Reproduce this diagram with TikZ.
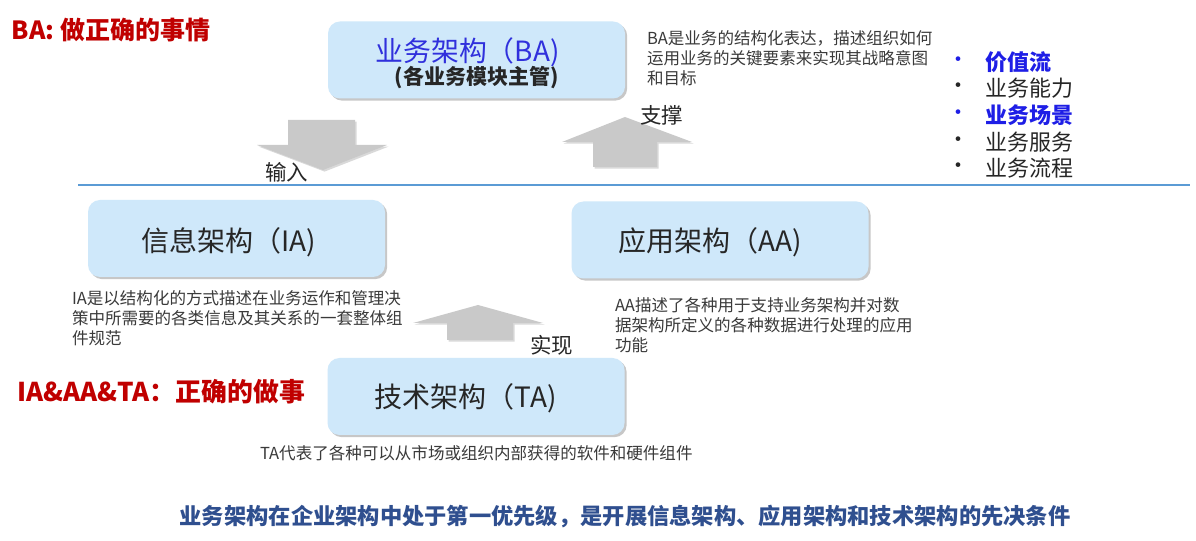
\documentclass[tikz,border=0pt]{standalone}
\usepackage{fontspec}
\setmainfont{Noto Sans CJK SC}
\usetikzlibrary{shadows}
\definecolor{boxfill}{HTML}{CFE8FA}
\definecolor{redtxt}{HTML}{C00000}
\definecolor{titleblue}{HTML}{3030DC}
\definecolor{bulblue}{HTML}{1E1EE6}
\definecolor{darktxt}{HTML}{262626}
\definecolor{desctxt}{HTML}{3A3A3A}
\definecolor{bottomblue}{HTML}{2F4F8F}
\definecolor{arrowgray}{HTML}{C9C9C9}
\definecolor{rulecol}{HTML}{5B9BD5}
\begin{document}
\begin{tikzpicture}[x=0.75pt,y=-0.75pt,
  archbox/.style={fill=boxfill, rounded corners=9pt, minimum width=297*0.75pt,
    minimum height=77*0.75pt, inner sep=0pt,
    drop shadow={shadow xshift=1.6pt, shadow yshift=-1.6pt, fill=black, opacity=0.22}},
  txt/.style={inner sep=0pt, outer sep=0pt},
  redhead/.style={txt, text=redtxt, font=\fontsize{18.75}{22}\selectfont\bfseries},
  batitle/.style={txt, text=titleblue, font=\fontsize{20.9}{24}\selectfont},
  basub/.style={txt, text=darktxt, font=\fontsize{15.75}{19}\selectfont\bfseries},
  archtitle/.style={txt, text=darktxt, font=\fontsize{21}{25}\selectfont},
  desc/.style={txt, text=desctxt, align=left, font=\fontsize{12.4}{15}\selectfont},
  arrlabel/.style={txt, text=darktxt, font=\fontsize{16.1}{19}\selectfont},
  bulmark/.style={txt, font=\fontsize{16.5}{19}\selectfont},
  bullab/.style={txt, anchor=west, font=\fontsize{16.5}{19}\selectfont},
  bottomtxt/.style={txt, text=bottomblue, font=\fontsize{16.7}{20}\selectfont\bfseries},
  blockarrow/.style={fill=arrowgray,
    drop shadow={shadow xshift=1.2pt, shadow yshift=-1.2pt, fill=black, opacity=0.15}}
]
\useasboundingbox (0,0) rectangle (1196,541);
\fill[white] (0,0) rectangle (1196,541);

% headings
\node[redhead, anchor=west] (bahead) at (12,30) {BA: 做正确的事情};
\node[redhead, anchor=west, font=\fontsize{19.4}{23}\selectfont\bfseries] (techhead) at (17,392) {IA\&AA\&TA：正确的做事};

% block arrows
\path[blockarrow] (288,120) -- (355,120) -- (355,145) -- (387,145) -- (323,170)
  -- (257,145) -- (288,145) -- cycle;
\path[blockarrow] (593,167) -- (657,167) -- (657,142) -- (692,142) -- (625,117)
  -- (562,142) -- (593,142) -- cycle;
\path[blockarrow] (447,340) -- (513,340) -- (513,323) -- (543,323) -- (478,305)
  -- (413,323) -- (447,323) -- cycle;

% boxes
\node[archbox] (ba) at (476.5,60) {};
\node[batitle] (batxt) at (467.5,52) {业务架构（BA)};
\node[basub] (basubtxt) at (476.5,78) {(各业务模块主管)};

\node[archbox] (ia) at (236.5,238.5) {};
\node[archtitle] (iatxt) at (228.5,242) {信息架构（IA)};

\node[archbox] (aa) at (720,240) {};
\node[archtitle] (aatxt) at (710,242) {应用架构（AA)};

\node[archbox] (ta) at (476,396.5) {};
\node[archtitle] (tatxt) at (465.5,398) {技术架构（TA)};

% arrow labels
\node[arrlabel] (inlab) at (286.5,172) {输入};
\node[arrlabel] (suplab) at (661.5,115) {支撑};
\node[arrlabel] (implab) at (551.5,345) {实现};

% rule
\coordinate (r1) at (78,185);
\coordinate (r2) at (1190,185);
\draw[rulecol, line width=1.5pt] (r1) -- (r2);

% descriptions
\node[desc, anchor=west] (badesc) at (647,58) {BA是业务的结构化表达，描述组织如何\\运用业务的关键要素来实现其战略意图\\和目标};
\node[desc, anchor=west] (iadesc) at (72,318) {IA是以结构化的方式描述在业务运作和管理决\\策中所需要的各类信息及其关系的一套整体组\\件规范};
\node[desc, anchor=west] (aadesc) at (615,325) {AA描述了各种用于支持业务架构并对数\\据架构所定义的各种数据进行处理的应用\\功能};
\node[desc, anchor=west] (tadesc) at (260,453) {TA代表了各种可以从市场或组织内部获得的软件和硬件组件};

% bullet list
\node[bulmark, text=bulblue] (m1) at (958,62) {•};
\node[bullab, text=bulblue, font=\fontsize{16.5}{19}\selectfont\bfseries] (l1) at (985,62) {价值流};
\node[bulmark, text=darktxt] (m2) at (958,88) {•};
\node[bullab, text=darktxt] (l2) at (985,88) {业务能力};
\node[bulmark, text=bulblue] (m3) at (958,115) {•};
\node[bullab, text=bulblue, font=\fontsize{16.5}{19}\selectfont\bfseries] (l3) at (985,115) {业务场景};
\node[bulmark, text=darktxt] (m4) at (958,142) {•};
\node[bullab, text=darktxt] (l4) at (985,142) {业务服务};
\node[bulmark, text=darktxt] (m5) at (958,168) {•};
\node[bullab, text=darktxt] (l5) at (985,168) {业务流程};

% conclusion
\node[bottomtxt] (concl) at (625,517) {业务架构在企业架构中处于第一优先级，是开展信息架构、应用架构和技术架构的先决条件};
\end{tikzpicture}
\end{document}
